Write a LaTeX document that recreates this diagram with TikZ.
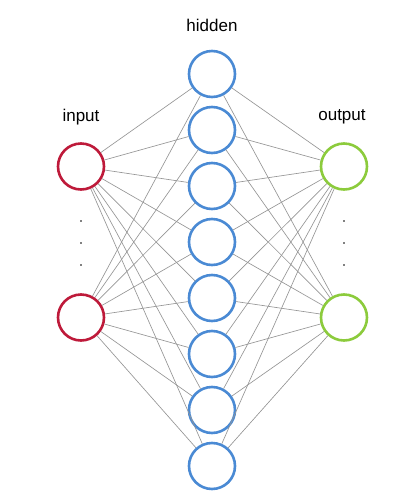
\documentclass[tikz,border=0pt]{standalone}
\usepackage{fontspec}
\setmainfont{Liberation Sans}
\definecolor{inred}{HTML}{BE1A3A}
\definecolor{hidblue}{HTML}{4A8AD4}
\definecolor{outgreen}{HTML}{8CCB3C}
\definecolor{edgegray}{HTML}{959595}
\begin{document}
\begin{tikzpicture}[x=1pt,y=-1pt,
  neuron/.style={circle,minimum size=46pt,inner sep=0pt,line width=2.6pt,fill=white},
  inneuron/.style={neuron,draw=inred},
  hidneuron/.style={neuron,draw=hidblue},
  outneuron/.style={neuron,draw=outgreen},
  edge/.style={draw=edgegray,line width=0.65pt},
  lbl/.style={font=\fontsize{17}{20}\selectfont,inner sep=0pt},
  dot/.style={circle,fill=black,inner sep=0pt,minimum size=1.8pt}]
\useasboundingbox (0,0) rectangle (404,499);
\node[inneuron] (i1) at (81,166.5) {};
\node[inneuron] (i2) at (81,317.5) {};
\foreach \k [evaluate=\k as \yy using 74+56*(\k-1)] in {1,...,8}
  \node[hidneuron] (h\k) at (212,\yy) {};
\node[outneuron] (o1) at (344,166.5) {};
\node[outneuron] (o2) at (344,317.5) {};
\foreach \k in {1,...,8}{
  \draw[edge] (i1) -- (h\k);
  \draw[edge] (i2) -- (h\k);
  \draw[edge] (h\k) -- (o1);
  \draw[edge] (h\k) -- (o2);
}
\node[lbl] (tin) at (81,117) {input};
\node[lbl] (thid) at (212,25) {hidden};
\node[lbl] (tout) at (342,117) {output};
\node[dot] (d1) at (81,221) {};
\node[dot] (d2) at (81,243) {};
\node[dot] (d3) at (81,265) {};
\node[dot] (d4) at (344,221) {};
\node[dot] (d5) at (344,243) {};
\node[dot] (d6) at (344,265) {};
\end{tikzpicture}
\end{document}
